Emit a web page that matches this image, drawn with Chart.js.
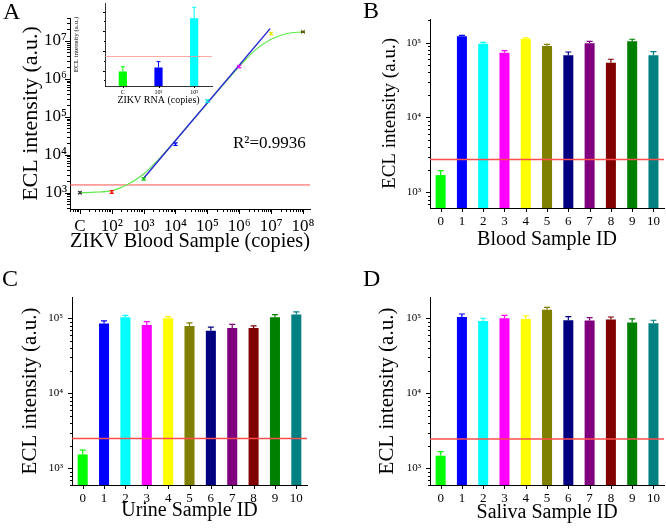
<!DOCTYPE html>
<html>
<head>
<meta charset="utf-8">
<script src="https://cdn.jsdelivr.net/npm/chart.js@4.4.0/dist/chart.umd.min.js"></script>
<style>
  body { margin: 0; background: #fff; }
  #wrap { position: relative; width: 666px; height: 531px; overflow: hidden; background: #fff;
          font-family: 'Liberation Serif', 'Times New Roman', serif; color: #000; }
  #wrap canvas { position: absolute; }
  .tag { position: absolute; font-size: 24px; line-height: 1; }
  .note { position: absolute; font-size: 17px; line-height: 1; white-space: nowrap; }
</style>
</head>
<body>
<div id="wrap">
  <canvas id="chartA" width="333" height="265" style="left:0px;top:0px"></canvas>
  <canvas id="chartInset" width="146" height="108" style="left:72px;top:0px"></canvas>
  <canvas id="chartB" width="333" height="265" style="left:333px;top:0px"></canvas>
  <canvas id="chartC" width="333" height="266" style="left:0px;top:265px"></canvas>
  <canvas id="chartD" width="333" height="266" style="left:333px;top:265px"></canvas>
  <div class="tag" style="left:3px;top:-1px">A</div>
  <div class="tag" style="left:363px;top:-2px">B</div>
  <div class="tag" style="left:2px;top:266px">C</div>
  <div class="tag" style="left:363px;top:266px">D</div>
  <div class="note" style="left:233px;top:134px">R²=0.9936</div>
</div>
<script>
// --- panel A: blood sample dilution series (C is plotted at 10 copies) ---
const copies = [10, 1e2, 1e3, 1e4, 1e5, 1e6, 1e7, 1e8];
const bloodSignal = [1000, 1050, 2300, 1.9e4, 2.6e5, 2.1e6, 1.56e7, 1.73e7];
const bloodSignalErr = [60, 90, 150, 1.5e3, 2e4, 1.5e5, 1.2e6, 6e5];
const pointColors = ['#333333', '#ff0000', '#00c000', '#0000ff', '#00e0e0', '#ff00ff', '#e6e600', '#555500'];
const curveX = [10, 31.6, 100, 290, 562, 1e3, 3.16e3, 1e4, 1e5, 1e6, 3.16e6, 1e7, 3.16e7, 1e8];
const curveY = [1000, 1030, 1130, 1600, 2200, 3100, 8000, 2.4e4, 2.3e5, 2.1e6, 5.7e6, 1.1e7, 1.56e7, 1.73e7];
const fitX = [1e3, 9.3e6];
const fitY = [2400, 2.1e7];
const bloodCutoff = 1600;

// --- inset: ZIKV RNA ---
const insetLabels = ['C', '10²', '10³'];
const insetValues = [980, 1080, 2330];
const insetErrors = [120, 150, 280];
const insetColors = ['#00ff00', '#0000ff', '#00ffff'];
const insetCutoff = 1360;

// --- panels B, C, D: sample screening ---
const sampleIds = ['0', '1', '2', '3', '4', '5', '6', '7', '8', '9', '10'];
const barColors = ['#00ff00', '#0000ff', '#00ffff', '#ff00ff', '#ffff00', '#808000',
                   '#000080', '#800080', '#800000', '#008000', '#008080'];
const bloodIdValues = [1700, 1.22e5, 9.7e4, 7.3e4, 1.13e5, 9.0e4, 6.8e4, 9.8e4, 5.4e4, 1.04e5, 6.8e4];
const bloodIdErrors = [250, 3e3, 4e3, 5e3, 3e3, 5e3, 7e3, 6e3, 6e3, 7e3, 8e3];
const urineValues = [1530, 8.5e4, 1.03e5, 8.1e4, 1.0e5, 7.9e4, 6.8e4, 7.4e4, 7.4e4, 1.03e5, 1.12e5];
const urineErrors = [220, 7e3, 6e3, 9e3, 5e3, 8e3, 8e3, 9e3, 5e3, 9e3, 1e4];
const salivaValues = [1470, 1.04e5, 9.2e4, 1.0e5, 9.8e4, 1.3e5, 9.4e4, 9.3e4, 9.6e4, 8.8e4, 8.6e4];
const salivaErrors = [200, 1e4, 8e3, 9e3, 1e4, 1e4, 1.1e4, 9e3, 8e3, 1e4, 8e3];
const cutoffs = { blood: 2750, urine: 2500, saliva: 2450 };

const SERIF = "'Liberation Serif', 'Times New Roman', serif";
Chart.defaults.font.family = SERIF;
Chart.defaults.color = '#000';

const SUP = { '0': '⁰', '1': '¹', '2': '²', '3': '³', '4': '⁴', '5': '⁵', '6': '⁶', '7': '⁷', '8': '⁸', '9': '⁹' };
function powLabel(v) {
  const e = Math.log10(v);
  if (Math.abs(e - Math.round(e)) > 1e-6) return null;
  return '10' + String(Math.round(e)).split('').map(c => SUP[c]).join('');
}

// origin style ticks, pointing outward, with minor ticks
const originTicks = {
  id: 'originTicks',
  afterDraw(chart, args, opts) {
    const ctx = chart.ctx;
    const major = opts.major || 5, minor = opts.minor || 3;
    ctx.save();
    ctx.strokeStyle = '#000';
    ctx.lineWidth = 1;
    Object.values(chart.scales).forEach(scale => {
      const marks = [];
      if (scale.type === 'logarithmic') {
        const lo = Math.floor(Math.log10(scale.min)), hi = Math.ceil(Math.log10(scale.max));
        for (let e = lo; e <= hi; e++) {
          for (let m = 1; m < 10; m++) {
            const v = m * Math.pow(10, e);
            if (v < scale.min || v > scale.max) continue;
            marks.push([scale.getPixelForValue(v), m === 1 ? major : minor]);
          }
        }
      } else if (scale.type === 'category') {
        scale.ticks.forEach((t, i) => marks.push([scale.getPixelForTick(i), major]));
      } else {
        const step = opts.step || 1;
        for (let v = Math.ceil(scale.min / (step / 2)) * (step / 2); v <= scale.max; v += step / 2) {
          marks.push([scale.getPixelForValue(v), Math.abs(v / step - Math.round(v / step)) < 1e-6 ? major : minor]);
        }
      }
      marks.forEach(([p, len]) => {
        const q = Math.round(p) + 0.5;
        ctx.beginPath();
        if (scale.isHorizontal()) {
          ctx.moveTo(q, scale.top);
          ctx.lineTo(q, scale.top + len);
        } else {
          ctx.moveTo(scale.right, q);
          ctx.lineTo(scale.right - len, q);
        }
        ctx.stroke();
      });
    });
    ctx.restore();
  }
};

const errorBars = {
  id: 'errorBars',
  afterDatasetsDraw(chart) {
    const ctx = chart.ctx;
    chart.data.datasets.forEach((ds, di) => {
      if (!ds.errors) return;
      const meta = chart.getDatasetMeta(di);
      const yScale = chart.scales[meta.yAxisID];
      meta.data.forEach((el, i) => {
        const raw = ds.data[i];
        const v = typeof raw === 'object' ? raw.y : raw;
        const e = ds.errors[i];
        const yTop = yScale.getPixelForValue(v + e);
        const yBot = ds.errorBoth ? yScale.getPixelForValue(v - e) : el.y;
        const cap = ds.errorCap || 3;
        ctx.save();
        ctx.strokeStyle = Array.isArray(ds.errorColor) ? ds.errorColor[i] : ds.errorColor;
        ctx.lineWidth = ds.errorWidth || 1;
        ctx.beginPath();
        ctx.moveTo(el.x, yBot);
        ctx.lineTo(el.x, yTop);
        ctx.moveTo(el.x - cap, yTop);
        ctx.lineTo(el.x + cap, yTop);
        if (ds.errorBoth) {
          ctx.moveTo(el.x - cap, yBot);
          ctx.lineTo(el.x + cap, yBot);
        }
        ctx.stroke();
        ctx.restore();
      });
    });
  }
};

function drawCutoff(chart, opts) {
  if (!opts || opts.value == null) return;
  const { ctx, chartArea } = chart;
  const y = chart.scales.y.getPixelForValue(opts.value);
  ctx.save();
  ctx.strokeStyle = opts.color;
  ctx.lineWidth = opts.width || 1;
  ctx.beginPath();
  ctx.moveTo(chartArea.left, y);
  ctx.lineTo(chartArea.right, y);
  ctx.stroke();
  ctx.restore();
}
const cutoffLine = {
  id: 'cutoffLine',
  beforeDatasetsDraw(chart, args, opts) { if (opts && opts.under) drawCutoff(chart, opts); },
  afterDatasetsDraw(chart, args, opts) { if (opts && !opts.under) drawCutoff(chart, opts); }
};

// ticks are drawn by originTicks, so chart.js draws none
const noGrid = { display: false, drawTicks: false };
const axisBorder = { display: true, color: '#000', width: 1 };

// panel A
new Chart(document.getElementById('chartA'), {
  type: 'scatter',
  data: {
    datasets: [
      {
        label: 'Blood sample',
        data: copies.map((x, i) => ({ x: x, y: bloodSignal[i] })),
        pointStyle: 'crossRot',
        pointRadius: 2.5,
        pointBorderWidth: 1,
        borderColor: pointColors,
        backgroundColor: pointColors,
        errors: bloodSignalErr,
        errorBoth: true,
        errorColor: pointColors,
        errorCap: 2
      },
      {
        label: 'Linear fit',
        type: 'line',
        data: fitX.map((x, i) => ({ x: x, y: fitY[i] })),
        borderColor: '#2a2ad2',
        borderWidth: 1.5,
        pointRadius: 0
      },
      {
        label: 'Curve',
        type: 'line',
        data: curveX.map((x, i) => ({ x: x, y: curveY[i] })),
        borderColor: '#5ee84a',
        borderWidth: 1.2,
        pointRadius: 0,
        cubicInterpolationMode: 'monotone'
      }
    ]
  },
  options: {
    responsive: false,
    animation: false,
    layout: { padding: { left: 0, top: 18, right: 23, bottom: 0 } },
    plugins: {
      legend: { display: false },
      tooltip: { enabled: false },
      cutoffLine: { value: bloodCutoff, color: '#ff5050', width: 1, under: true },
      originTicks: { major: 5, minor: 3 }
    },
    scales: {
      x: {
        type: 'logarithmic',
        min: 4.9,
        max: 1.66e8,
        grid: noGrid,
        border: axisBorder,
        ticks: {
          autoSkip: false, maxRotation: 0, padding: 7, font: { size: 17 },
          callback: v => (Math.abs(v - 10) < 1e-6 ? 'C' : powLabel(v))
        },
        title: { display: true, text: 'ZIKV Blood Sample (copies)', font: { size: 21 }, padding: { top: 0, bottom: 11 } },
        afterFit: s => { s.height = 56; }
      },
      y: {
        type: 'logarithmic',
        min: 372,
        max: 4e7,
        grid: noGrid,
        border: axisBorder,
        ticks: { autoSkip: false, padding: 3, font: { size: 17 }, callback: v => powLabel(v) },
        title: { display: true, text: 'ECL intensity (a.u.)', font: { size: 22 }, padding: { top: 18, bottom: 0 } },
        afterFit: s => { s.width = 70; }
      }
    }
  },
  plugins: [cutoffLine, errorBars, originTicks]
});

// inset of panel A
new Chart(document.getElementById('chartInset'), {
  type: 'bar',
  data: {
    labels: insetLabels,
    datasets: [{
      label: 'ZIKV RNA',
      data: insetValues,
      backgroundColor: insetColors,
      barPercentage: 0.23,
      categoryPercentage: 1,
      errors: insetErrors,
      errorColor: insetColors,
      errorCap: 2
    }]
  },
  options: {
    responsive: false,
    animation: false,
    layout: { padding: { left: 0, top: 3, right: 6, bottom: 0 } },
    plugins: {
      legend: { display: false },
      tooltip: { enabled: false },
      cutoffLine: { value: insetCutoff, color: '#ff9090', width: 0.8 },
      originTicks: { major: 2, minor: 1, step: 500 }
    },
    scales: {
      x: {
        grid: noGrid,
        border: { display: true, color: '#000', width: 0.8 },
        ticks: { padding: 3, font: { size: 6 } },
        title: { display: true, text: 'ZIKV RNA (copies)', font: { size: 10 }, padding: { top: 0, bottom: 2 } },
        afterFit: s => { s.height = 22; }
      },
      y: {
        type: 'linear',
        min: 610,
        max: 2720,
        grid: noGrid,
        border: { display: true, color: '#000', width: 0.8 },
        ticks: {
          autoSkip: false, stepSize: 500, padding: 3, font: { size: 5 },
          callback: v => (v % 500 === 0 ? (v / 1000).toFixed(1) + 'x10³' : null)
        },
        title: { display: true, text: 'ECL intensity (a.u.)', font: { size: 7 }, padding: { top: 0, bottom: 0 } },
        afterFit: s => { s.width = 33; }
      }
    }
  },
  plugins: [cutoffLine, errorBars, originTicks]
});

// panels B, C, D
function sampleChart(id, values, errors, cutoff, xTitle, box) {
  new Chart(document.getElementById(id), {
    type: 'bar',
    data: {
      labels: sampleIds,
      datasets: [{
        label: xTitle,
        data: values,
        backgroundColor: barColors,
        barPercentage: 0.47,
        categoryPercentage: 1,
        errors: errors,
        errorColor: barColors,
        errorCap: 3,
        errorWidth: 1.2
      }]
    },
    options: {
      responsive: false,
      animation: false,
      layout: { padding: { left: 0, top: box.top, right: box.right, bottom: 0 } },
      plugins: {
        legend: { display: false },
        tooltip: { enabled: false },
        cutoffLine: { value: cutoff, color: '#ff4d4d', width: 1.5 },
        originTicks: { major: 4, minor: 2 }
      },
      scales: {
        x: {
          grid: noGrid,
          border: axisBorder,
          ticks: { padding: 6, font: { size: 13 } },
          title: { display: true, text: xTitle, font: { size: 20 }, padding: { top: 0, bottom: box.xPad } },
          afterFit: s => { s.height = box.xHeight; }
        },
        y: {
          type: 'logarithmic',
          min: box.yMin,
          max: box.yMax,
          grid: noGrid,
          border: axisBorder,
          ticks: { autoSkip: false, padding: 9, font: { size: 11 }, callback: v => powLabel(v) },
          title: { display: true, text: 'ECL intensity (a.u.)', font: { size: box.yFont }, padding: { top: box.yPad, bottom: 0 } },
          afterFit: s => { s.width = box.yWidth; }
        }
      }
    },
    plugins: [cutoffLine, errorBars, originTicks]
  });
}

sampleChart('chartB', bloodIdValues, bloodIdErrors, cutoffs.blood, 'Blood Sample ID',
  { top: 19, right: 1, xHeight: 57, yWidth: 97, xPad: 13, yPad: 46, yFont: 19, yMin: 617, yMax: 2.07e5 });
sampleChart('chartC', urineValues, urineErrors, cutoffs.urine, 'Urine Sample ID',
  { top: 32, right: 26, xHeight: 46, yWidth: 72, xPad: 8, yPad: 18, yFont: 21, yMin: 599, yMax: 1.92e5 });
sampleChart('chartD', salivaValues, salivaErrors, cutoffs.saliva, 'Saliva Sample ID',
  { top: 32, right: 1, xHeight: 46, yWidth: 97, xPad: 6, yPad: 42, yFont: 21, yMin: 599, yMax: 1.92e5 });
</script>
</body>
</html>
